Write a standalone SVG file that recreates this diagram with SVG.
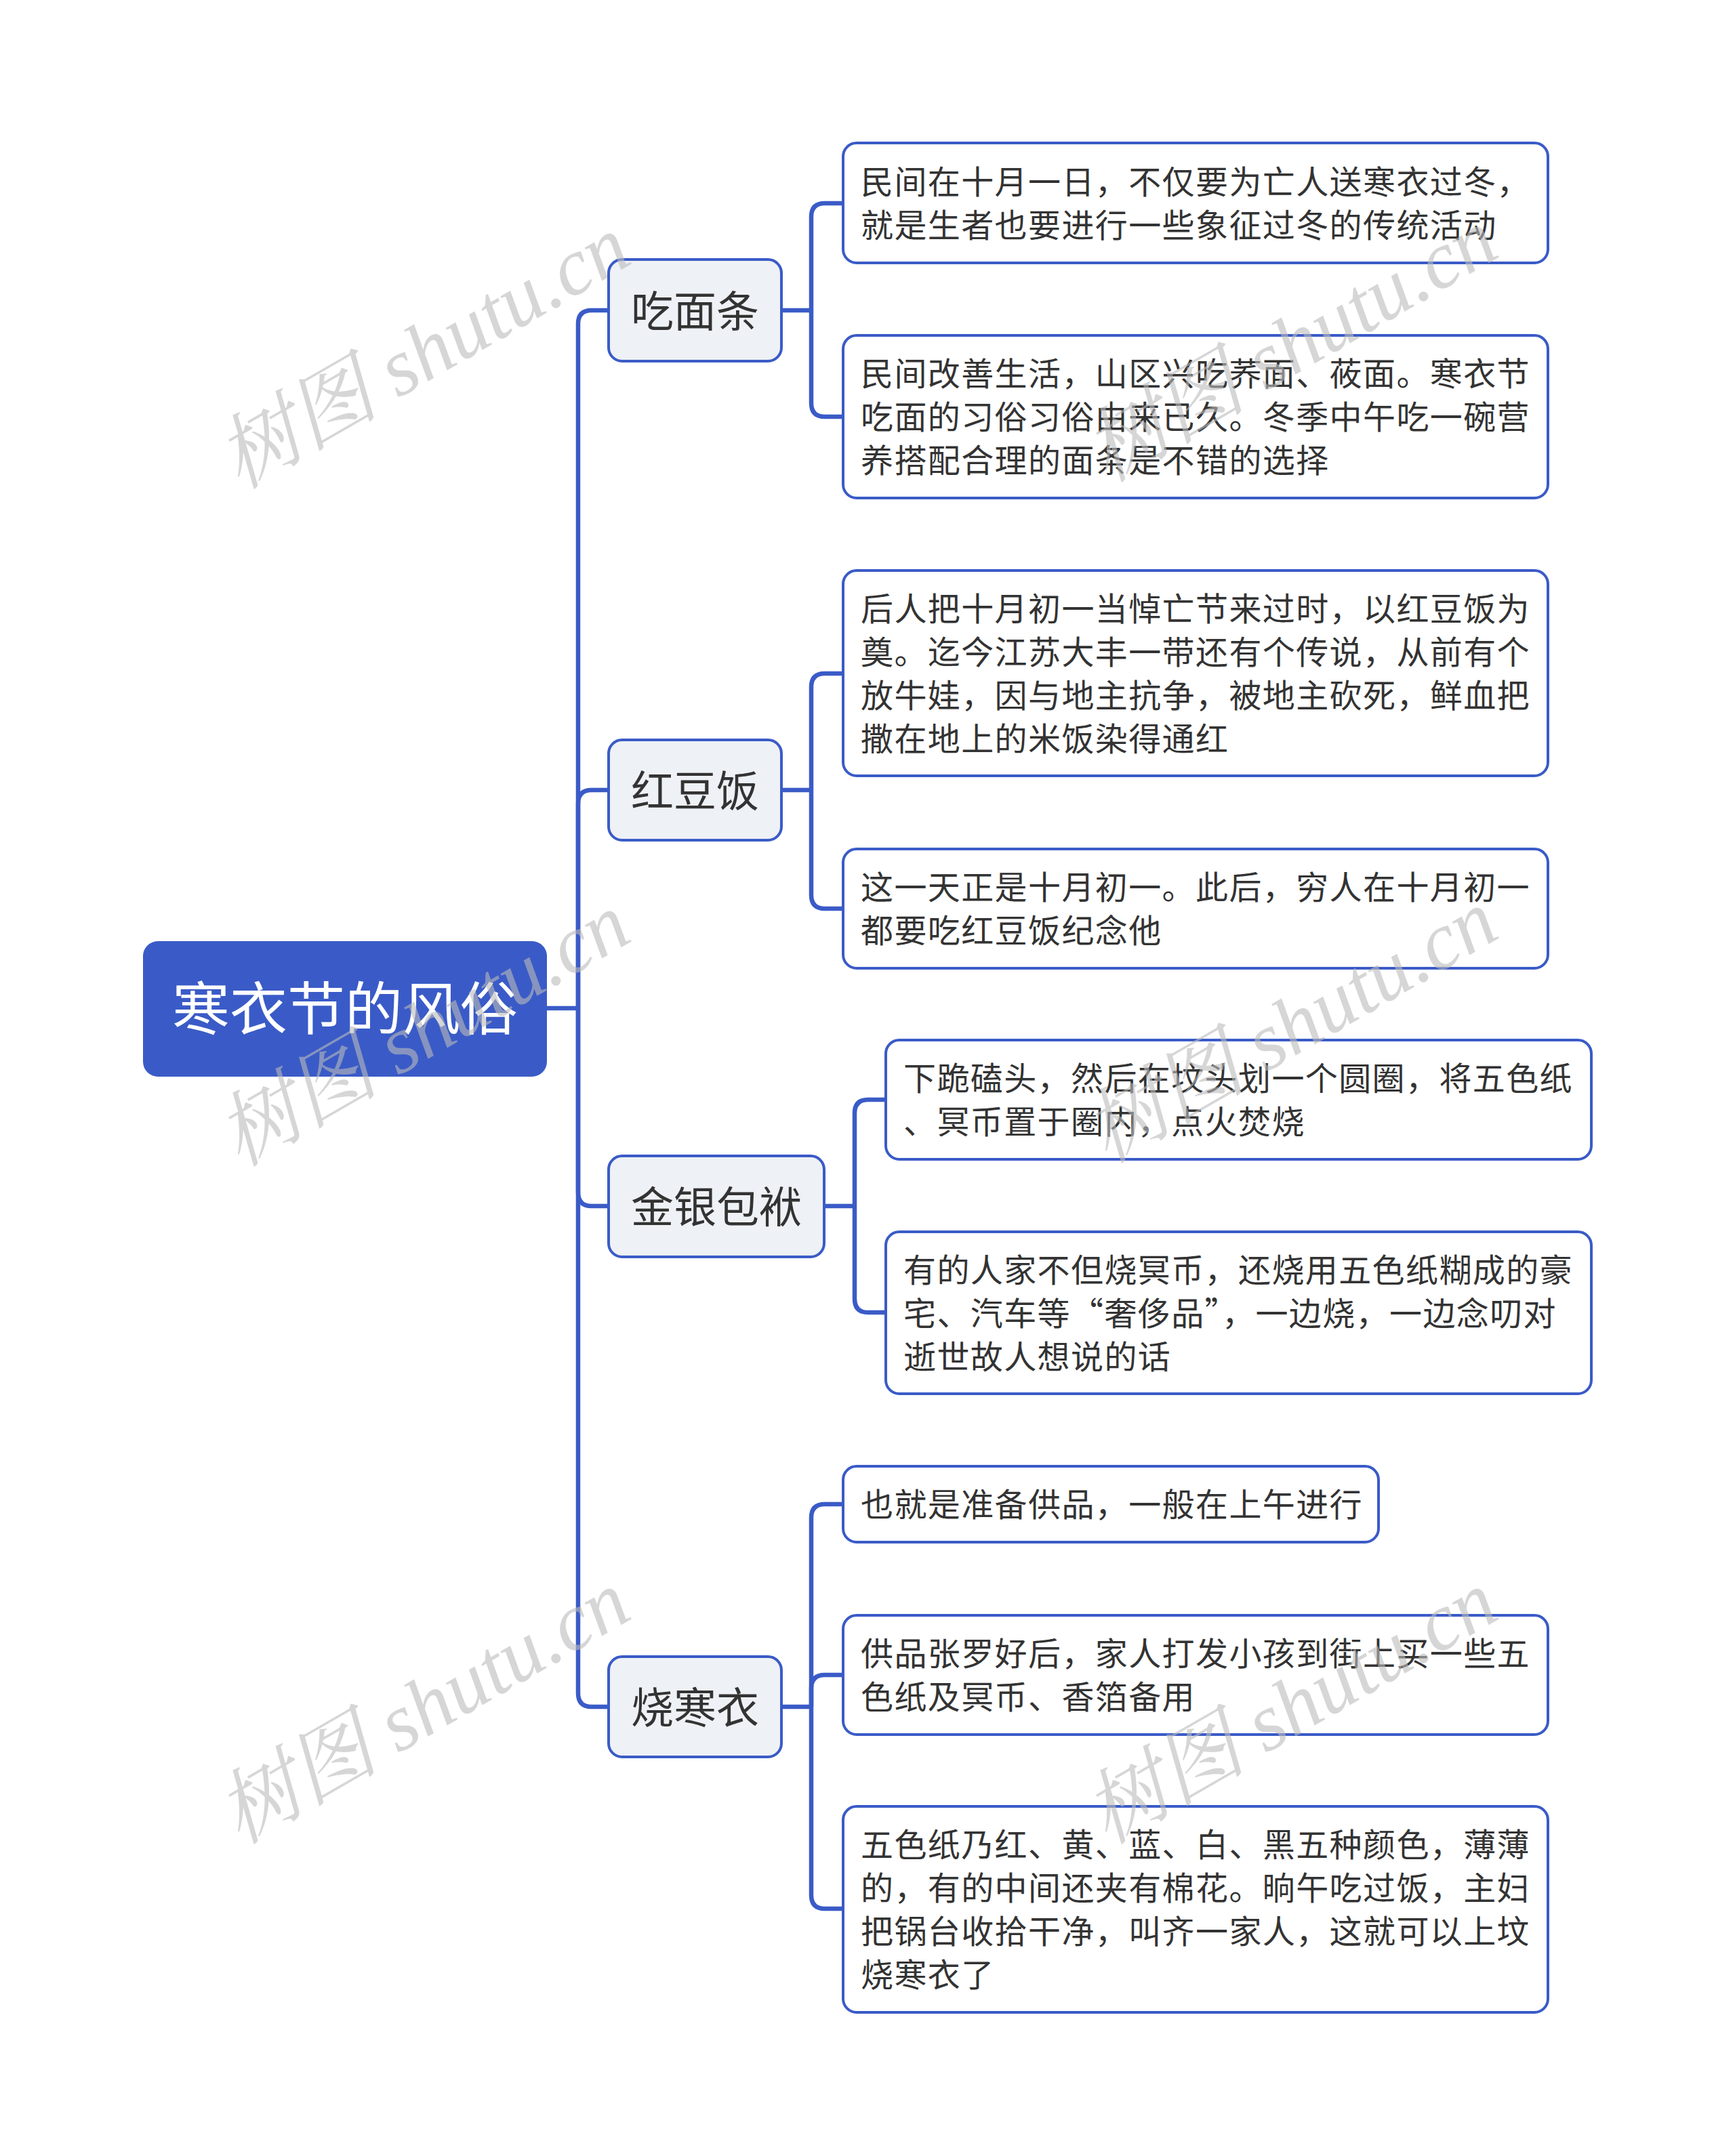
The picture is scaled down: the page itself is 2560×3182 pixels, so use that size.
<svg xmlns="http://www.w3.org/2000/svg" width="2560" height="3182" viewBox="0 0 2560 3182">
<style>
.c{fill:none;stroke:#3A5BC7;stroke-width:6.5;stroke-linejoin:round}
.leaf{fill:#FFFFFF;stroke:#3A5BC7;stroke-width:4}
.br{fill:#EEF1F5;stroke:#3A5BC7;stroke-width:4}
.lt{font-family:"Noto Sans CJK SC","Noto Sans",sans-serif;font-size:48px;letter-spacing:1.4px;fill:#333333}
.bt{font-family:"Noto Sans CJK SC","Noto Sans",sans-serif;font-size:63px;fill:#333333;text-anchor:middle}
.rt{font-family:"Noto Sans CJK SC","Noto Sans",sans-serif;font-size:85px;fill:#FFFFFF;text-anchor:middle}
.wm{font-family:"Liberation Serif","Noto Serif CJK SC","Noto Sans CJK SC",serif;font-style:italic;font-size:120px;fill:#BBBBBB;opacity:0.6;text-anchor:middle}
</style>
<rect width="2560" height="3182" fill="#FFFFFF"/>
<g id="connectors">
<path class="c" d="M807,1488 H853"/>
<path class="c" d="M853,1488 V478 Q853,458 873,458 H898"/>
<path class="c" d="M853,1488 V1186 Q853,1166 873,1166 H898"/>
<path class="c" d="M853,1488 V1760 Q853,1780 873,1780 H898"/>
<path class="c" d="M853,1488 V2499 Q853,2519 873,2519 H898"/>
<path class="c" d="M1153,458 H1197"/>
<path class="c" d="M1197,458 V320 Q1197,300 1217,300 H1244"/>
<path class="c" d="M1197,458 V595 Q1197,615 1217,615 H1244"/>
<path class="c" d="M1153,1166 H1197"/>
<path class="c" d="M1197,1166 V1014 Q1197,994 1217,994 H1244"/>
<path class="c" d="M1197,1166 V1321 Q1197,1341 1217,1341 H1244"/>
<path class="c" d="M1216,1780 H1261"/>
<path class="c" d="M1261,1780 V1643 Q1261,1623 1281,1623 H1307"/>
<path class="c" d="M1261,1780 V1917 Q1261,1937 1281,1937 H1307"/>
<path class="c" d="M1153,2519 H1197"/>
<path class="c" d="M1197,2519 V2240 Q1197,2220 1217,2220 H1244"/>
<path class="c" d="M1197,2519 V2492 Q1197,2472 1217,2472 H1244"/>
<path class="c" d="M1197,2519 V2797 Q1197,2817 1217,2817 H1244"/>
</g>
<g id="root">
<rect x="211" y="1389" width="596" height="200" rx="22" fill="#3A5BC7"/>
<text class="rt" x="509" y="1520">寒衣节的风俗</text>
</g>
<g id="b1">
<rect class="br" x="898" y="383" width="255" height="150" rx="20"/>
<text class="bt" x="1025.5" y="482">吃面条</text>
</g>
<g id="b2">
<rect class="br" x="898" y="1092" width="255" height="148" rx="20"/>
<text class="bt" x="1025.5" y="1190">红豆饭</text>
</g>
<g id="b3">
<rect class="br" x="898" y="1706" width="318" height="149" rx="20"/>
<text class="bt" x="1057" y="1804">金银包袱</text>
</g>
<g id="b4">
<rect class="br" x="898" y="2445" width="255" height="148" rx="20"/>
<text class="bt" x="1025.5" y="2543">烧寒衣</text>
</g>
<g id="l1">
<rect class="leaf" x="1244" y="211" width="1040" height="177" rx="20"/>
<text class="lt" x="1270" y="286">民间在十月一日，不仅要为亡人送寒衣过冬，</text>
<text class="lt" x="1270" y="350">就是生者也要进行一些象征过冬的传统活动</text>
</g>
<g id="l2">
<rect class="leaf" x="1244" y="495" width="1040" height="240" rx="20"/>
<text class="lt" x="1270" y="569">民间改善生活，山区兴吃荞面、莜面。寒衣节</text>
<text class="lt" x="1270" y="633">吃面的习俗习俗由来已久。冬季中午吃一碗营</text>
<text class="lt" x="1270" y="697">养搭配合理的面条是不错的选择</text>
</g>
<g id="l3">
<rect class="leaf" x="1244" y="842" width="1040" height="303" rx="20"/>
<text class="lt" x="1270" y="916">后人把十月初一当悼亡节来过时，以红豆饭为</text>
<text class="lt" x="1270" y="980">奠。迄今江苏大丰一带还有个传说，从前有个</text>
<text class="lt" x="1270" y="1044">放牛娃，因与地主抗争，被地主砍死，鲜血把</text>
<text class="lt" x="1270" y="1108">撒在地上的米饭染得通红</text>
</g>
<g id="l4">
<rect class="leaf" x="1244" y="1253" width="1040" height="176" rx="20"/>
<text class="lt" x="1270" y="1327">这一天正是十月初一。此后，穷人在十月初一</text>
<text class="lt" x="1270" y="1391">都要吃红豆饭纪念他</text>
</g>
<g id="l5">
<rect class="leaf" x="1307" y="1535" width="1041" height="176" rx="20"/>
<text class="lt" x="1333" y="1609">下跪磕头，然后在坟头划一个圆圈，将五色纸</text>
<text class="lt" x="1333" y="1673">、冥币置于圈内，点火焚烧</text>
</g>
<g id="l6">
<rect class="leaf" x="1307" y="1818" width="1041" height="239" rx="20"/>
<text class="lt" x="1333" y="1892">有的人家不但烧冥币，还烧用五色纸糊成的豪</text>
<text class="lt" x="1333" y="1956">宅、汽车等“奢侈品”，一边烧，一边念叨对</text>
<text class="lt" x="1333" y="2020">逝世故人想说的话</text>
</g>
<g id="l7">
<rect class="leaf" x="1244" y="2164" width="790" height="112" rx="20"/>
<text class="lt" x="1270" y="2238">也就是准备供品，一般在上午进行</text>
</g>
<g id="l8">
<rect class="leaf" x="1244" y="2384" width="1040" height="176" rx="20"/>
<text class="lt" x="1270" y="2458">供品张罗好后，家人打发小孩到街上买一些五</text>
<text class="lt" x="1270" y="2522">色纸及冥币、香箔备用</text>
</g>
<g id="l9">
<rect class="leaf" x="1244" y="2666" width="1040" height="304" rx="20"/>
<text class="lt" x="1270" y="2740">五色纸乃红、黄、蓝、白、黑五种颜色，薄薄</text>
<text class="lt" x="1270" y="2804">的，有的中间还夹有棉花。晌午吃过饭，主妇</text>
<text class="lt" x="1270" y="2868">把锅台收拾干净，叫齐一家人，这就可以上坟</text>
<text class="lt" x="1270" y="2932">烧寒衣了</text>
</g>
<g id="watermarks">
<text class="wm" transform="translate(645,555) rotate(-30)">树图 shutu.cn</text>
<text class="wm" transform="translate(645,1555) rotate(-30)">树图 shutu.cn</text>
<text class="wm" transform="translate(645,2555) rotate(-30)">树图 shutu.cn</text>
<text class="wm" transform="translate(1925,545) rotate(-30)">树图 shutu.cn</text>
<text class="wm" transform="translate(1925,1550) rotate(-30)">树图 shutu.cn</text>
<text class="wm" transform="translate(1925,2555) rotate(-30)">树图 shutu.cn</text>
</g>
</svg>
